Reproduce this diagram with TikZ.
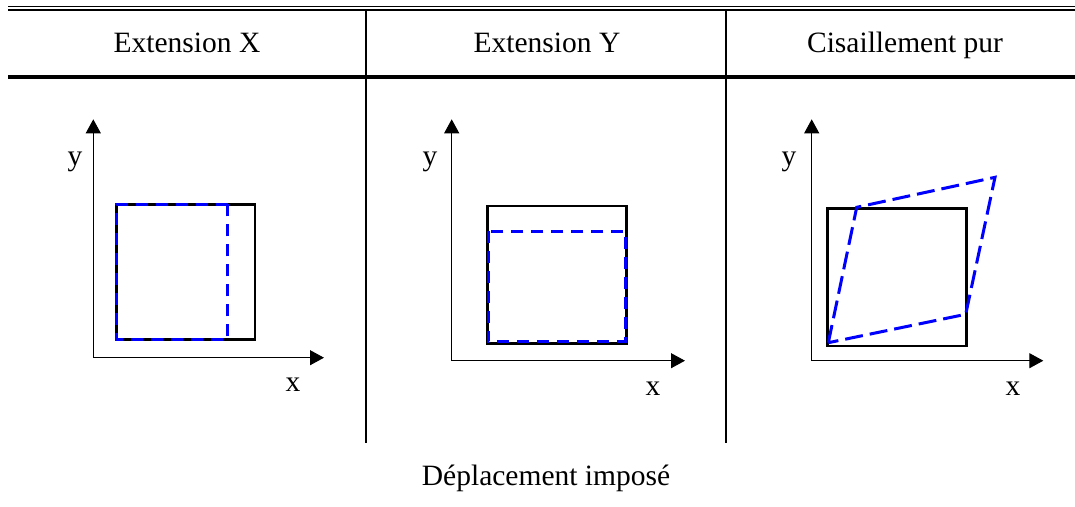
\documentclass[tikz,border=0pt]{standalone}
\usepackage{fontspec}
\setmainfont{Liberation Serif}
\usetikzlibrary{arrows.meta}
\definecolor{dblue}{RGB}{0,0,255}
\begin{document}
\begin{tikzpicture}[x=1pt,y=-1pt,
  rule/.style={line width=1.8pt},
  axis/.style={line width=1pt,-{Triangle[width=15pt,length=14pt]}},
  sq/.style={line width=2.8pt,line join=miter},
  def1/.style={line width=3pt,dblue,dash pattern=on 12pt off 8pt},
  def3/.style={line width=3pt,dblue,dash pattern=on 18pt off 7pt},
  lab/.style={font=\fontsize{29.5}{35}\selectfont,anchor=base,inner sep=0pt}]
\useasboundingbox (0,0) rectangle (1075,506);
% table rules
\draw[line width=1.7pt] (8,6.5) -- (1075,6.5);
\draw[line width=2pt] (8,10) -- (1075,10);
\draw[line width=4pt] (8,77) -- (1075,77);
\draw[rule] (366,10) -- (366,443);
\draw[rule] (726,10) -- (726,443);
% headers
\node[lab] (h1) at (187,52.5) {Extension X};
\node[lab] (h2) at (547,52.5) {Extension Y};
\node[lab] (h3) at (905,52.5) {Cisaillement pur};
\node[lab] (foot) at (546,485) {Déplacement imposé};
% panel 1
\coordinate (o1) at (93.3,357.7);
\coordinate (y1) at (93.3,119.3);
\coordinate (x1) at (324,357.7);
\draw[axis] (o1) -- (y1);
\draw[axis] (o1) -- (x1);
\node[lab] (ly1) at (75,165) {y};
\node[lab] (lx1) at (293,391.7) {x};
\draw[sq] (116.7,204.3) rectangle (255,339.3);
\draw[def1] (227.7,204.3) -- (116.7,204.3) -- (116.7,339.3) -- (227.7,339.3) -- cycle;
% panel 2
\coordinate (o2) at (451.7,360.7);
\coordinate (y2) at (451.7,119.3);
\coordinate (x2) at (685,360.7);
\draw[axis] (o2) -- (y2);
\draw[axis] (o2) -- (x2);
\node[lab] (ly2) at (430,165) {y};
\node[lab] (lx2) at (653,395) {x};
\draw[sq] (487.3,206) rectangle (626.7,343.3);
\draw[def1] (488,231) -- (488,341.7) -- (625,341.7) -- (625,231) -- cycle;
% panel 3
\coordinate (o3) at (811.7,360.7);
\coordinate (y3) at (811.7,119.3);
\coordinate (x3) at (1043.3,360.7);
\draw[axis] (o3) -- (y3);
\draw[axis] (o3) -- (x3);
\node[lab] (ly3) at (789,165) {y};
\node[lab] (lx3) at (1013,395) {x};
\draw[sq] (827.7,208.3) rectangle (966.7,346);
\draw[def3] (828.3,342.7) -- (856.7,207.3) -- (995,177.3) -- (965.7,314.3) -- cycle;
\end{tikzpicture}
\end{document}
